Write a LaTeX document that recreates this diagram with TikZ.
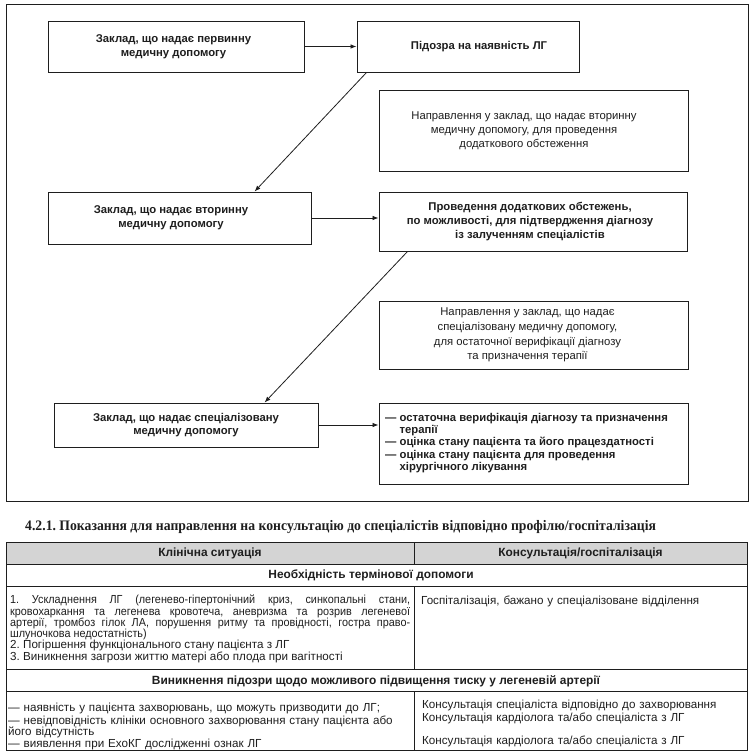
\documentclass[tikz,border=0pt]{standalone}
\usepackage{fontspec}
\setmainfont{Liberation Sans}
\newfontfamily\headserif[FakeStretch=0.945]{Liberation Serif}
\newfontfamily\tabfont{Liberation Sans}
\newfontfamily\tabfontc[FakeStretch=0.93]{Liberation Sans}
\usetikzlibrary{arrows.meta,calc}
\definecolor{hdrgray}{RGB}{212,212,212}
\definecolor{inkc}{RGB}{30,30,30}
\newcommand{\cl}[1]{\begin{tabular}{@{}c@{}}#1\end{tabular}}
\frenchspacing
\begin{document}
\begin{tikzpicture}[x=1pt,y=-1pt,
  box/.style={draw=inkc, line width=0.9pt, inner sep=0pt, align=center, text=inkc,
    font=\bfseries\fontsize{11.3}{14}\selectfont},
  nbox/.style={box, font=\fontsize{11.3}{14}\selectfont},
  arr/.style={draw=inkc, line width=0.8pt, -{Latex[length=6pt,width=4.5pt]}},
  tline/.style={draw=inkc, line width=0.8pt},
  cell/.style={inner sep=0pt, text=inkc, font=\tabfont\fontsize{11.65}{11.2}\selectfont\frenchspacing},
  hcell/.style={inner sep=0pt, text=inkc, font=\tabfont\bfseries\fontsize{11.9}{12}\selectfont}
]
\useasboundingbox (0,0) rectangle (753,754);
% outer frame
\draw[draw=inkc, line width=1pt] (6,5) rectangle (748,501);
% flow boxes
\node[box, minimum width=256, minimum height=51] (b1) at (176,46.5)
  {\cl{Заклад, що надає первинну\\медичну допомогу}\hspace*{5pt}};
\node[box, minimum width=222, minimum height=51] (b2) at (468,46.5)
  {\hspace*{22pt}Підозра на наявність ЛГ};
\node[nbox, minimum width=309, minimum height=81] (b3) at (533.5,130.5)
  {\cl{Направлення у заклад, що надає вторинну\\медичну допомогу, для проведення\\додаткового обстеження}\hspace*{19pt}};
\node[box, minimum width=263, minimum height=52] (b4) at (179.5,218)
  {\cl{Заклад, що надає вторинну\\медичну допомогу}\hspace*{17pt}};
\node[box, minimum width=308, minimum height=59] (b5) at (533,221.5)
  {\raisebox{5.5pt}{\cl{Проведення додаткових обстежень,\\по можливості, для підтвердження діагнозу\\із залученням спеціалістів}}\hspace*{6pt}};
\node[nbox, minimum width=309, minimum height=68, font=\fontsize{11.3}{14.7}\selectfont] (b6) at (533.5,335)
  {\raisebox{-3pt}{\cl{Направлення у заклад, що надає\\спеціалізовану медичну допомогу,\\для остаточної верифікації діагнозу\\та призначення терапії}}\hspace*{12pt}};
\node[box, minimum width=264, minimum height=44, font=\bfseries\fontsize{11.3}{13}\selectfont] (b7) at (186,425)
  {\raisebox{-3.5pt}{\cl{Заклад, що надає спеціалізовану\\медичну допомогу}}};
\node[box, minimum width=309, minimum height=81, align=left, font=\bfseries\fontsize{11.3}{12.3}\selectfont] (b8) at (533.5,443.5)
  {\begin{tabular}{@{}l@{ }l@{}}
   — & остаточна верифікація діагнозу та призначення\\
     & терапії\\
   — & оцінка стану пацієнта та його працездатності\\
   — & оцінка стану пацієнта для проведення\\
     & хірургічного лікування
   \end{tabular}\hspace*{14pt}};
% connectors
\coordinate (a2s) at ($(b2.south west)+(10,0)$);
\coordinate (a2e) at ($(b4.north west)+(207,0)$);
\coordinate (a4s) at ($(b5.south west)+(29,0)$);
\coordinate (a4e) at ($(b7.north west)+(211,0)$);
\draw[arr] (b1.east) -- (b2.west);
\draw[arr] (a2s) -- (a2e);
\draw[arr] (b4.east) -- (b5.west |- b4.east);
\draw[arr] (a4s) -- (a4e);
\draw[arr] (b7.east) -- (b8.west |- b7.east);
% heading
\node[anchor=base west, inner sep=0pt, text=inkc, font=\headserif\bfseries\fontsize{14.5}{16}\selectfont] (head) at (25,530)
  {4.2.1. Показання для направлення на консультацію до спеціалістів відповідно профілю/госпіталізація};
% table
\fill[hdrgray] (6,542) rectangle (747,564);
\draw[tline] (6,542) rectangle (747,750);
\draw[tline] (6,564) -- (747,564);
\draw[tline] (6,586) -- (747,586);
\draw[tline] (6,669) -- (747,669);
\draw[tline] (6,691) -- (747,691);
\draw[tline] (414,542) -- (414,564);
\draw[tline] (414,586) -- (414,669);
\draw[tline] (414,691) -- (414,750);
\node[hcell] (h1) at (210,553) {Клінічна ситуація};
\node[hcell] (h2) at (580.5,553) {Консультація/госпіталізація};
\node[hcell] (r2) at (371,575) {Необхідність термінової допомоги};
\node[cell, anchor=north west, text width=400, align=justify] (r3l) at (10,594.2)
  {\strut{\tabfontc\fontsize{11.65}{11.2}\selectfont 1. Ускладнення ЛГ (легенево-гіпертонічний криз, синкопальні стани,\linebreak
   кровохаркання та легенева кровотеча, аневризма та розрив легеневої\linebreak
   артерії, тромбоз гілок ЛА, порушення ритму та провідності, гостра право-\linebreak
   шлуночкова недостатність)}\\
   2. Погіршення функціонального стану пацієнта з ЛГ\\
   3. Виникнення загрози життю матері або плода при вагітності};
\node[cell, anchor=north west, text width=320, align=left] (r3r) at (421,596)
  {\strut Госпіталізація, бажано у спеціалізоване відділення};
\node[hcell] (r4) at (376,681) {Виникнення підозри щодо можливого підвищення тиску у легеневій артерії};
\node[cell, anchor=north west, text width=402, align=left] (r5l) at (8,703.2)
  {\strut — наявність у пацієнта захворювань, що можуть призводити до ЛГ;\\
   — невідповідність клініки основного захворювання стану пацієнта або\\
   його відсутність\\
   — виявлення при ЕхоКГ дослідженні ознак ЛГ};
\node[cell, anchor=north west, text width=320, align=left, font=\tabfont\fontsize{11.65}{11.5}\selectfont] (r5r) at (422,700)
  {\strut Консультація спеціаліста відповідно до захворювання\\
   Консультація кардіолога та/або спеціаліста з ЛГ\\
   \mbox{}\\
   Консультація кардіолога та/або спеціаліста з ЛГ};
\end{tikzpicture}
\end{document}
